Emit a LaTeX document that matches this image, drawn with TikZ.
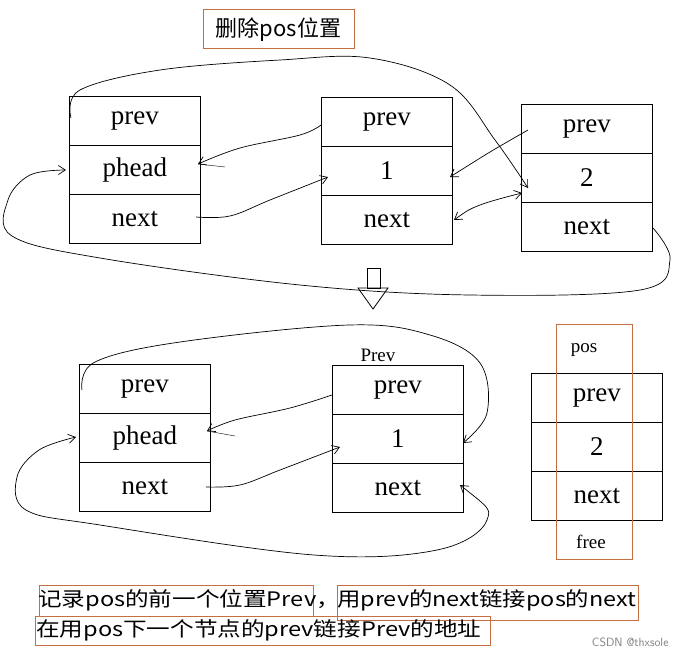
\documentclass[tikz,border=0pt]{standalone}
\usepackage{fontspec}
\setmainfont{Liberation Serif}
\newfontfamily\cjk{Noto Sans CJK SC}
\usetikzlibrary{arrows.meta}
\definecolor{ob}{RGB}{196,110,70}
\begin{document}
\begin{tikzpicture}[x=1pt,y=-1pt,
  cell/.style={draw,line width=0.8pt,minimum width=131pt,minimum height=49pt,inner sep=0,font=\fontsize{27}{27}\selectfont,anchor=north west},
  obox/.style={draw=ob,line width=0.8pt},
  lbl/.style={font=\cjk\fontsize{20}{20}\selectfont,inner sep=0},
  hand/.style={line width=0.7pt,-{Straight Barb[length=7pt,width=9pt]}},
  hand2/.style={line width=0.7pt,{Straight Barb[length=7pt,width=9pt]}-{Straight Barb[length=7pt,width=9pt]}}]
\useasboundingbox (0,0) rectangle (677,656);
% title
\draw[obox] (203,9) rectangle (354,48);
\node[lbl,font=\cjk\fontsize{22}{22}\selectfont] (title) at (278.5,30) {删除pos位置};
% top nodes
\node[cell] (a1) at (69,96) {prev};
\node[cell] (a2) at (69,145) {phead};
\node[cell] (a3) at (69,194) {next};
\node[cell] (b1) at (321,97) {prev};
\node[cell] (b2) at (321,146) {1};
\node[cell] (b3) at (321,195) {next};
\node[cell] (c1) at (521,104) {prev};
\node[cell] (c2) at (521,153) {2};
\node[cell] (c3) at (521,202) {next};
% top connectors
\draw[hand] plot[smooth,tension=0.6] coordinates {(71,118) (80,90) (160,70) (280,60) (370,58) (450,85) (495,140) (528,188)};
\draw[hand] plot[smooth,tension=0.6] coordinates {(321,125) (300,135) (240,148) (198,164)};
\draw (198,164) -- (225,167);
\draw[hand] plot[smooth,tension=0.6] coordinates {(196,217) (230,216) (270,200) (328,177)};
\draw[hand] plot[smooth,tension=0.6] coordinates {(528,130) (490,152) (450,177)};
\draw[hand2] plot[smooth,tension=0.6] coordinates {(454,220) (480,205) (522,193)};
\draw[hand] plot[smooth,tension=0.6] coordinates {(653,228) (670,260) (640,290) (470,295) (300,285) (100,258) (12,236) (8,200) (30,175) (66,170)};
% down arrow
\node[draw,line width=0.8pt,minimum width=13pt,minimum height=20pt,inner sep=0,anchor=north west] (dshaft) at (367,268) {};
\draw[line width=0.8pt] (358,288) -- (373,309) -- (388,288) -- cycle;
% bottom nodes
\node[cell] (d1) at (79,364) {prev};
\node[cell] (d2) at (79,413) {phead};
\node[cell] (d3) at (79,462) {next};
\node[cell] (e1) at (332,365) {prev};
\node[cell] (e2) at (332,414) {1};
\node[cell] (e3) at (332,463) {next};
\node[cell] (f1) at (531,373) {prev};
\node[cell] (f2) at (531,422) {2};
\node[cell] (f3) at (531,471) {next};
\node[obox,minimum width=76pt,minimum height=235pt,inner sep=0,anchor=north west] (posbox) at (556,324) {};
\node[font=\fontsize{19}{19}\selectfont,inner sep=0] (pos) at (584,350) {pos};
\node[font=\fontsize{19}{19}\selectfont,inner sep=0] (free) at (591,542) {free};
\node[font=\fontsize{19}{19}\selectfont,inner sep=0] (prevl) at (378,355) {Prev};
% bottom connectors
\draw[hand] plot[smooth,tension=0.6] coordinates {(82,390) (95,362) (180,342) (349,325) (430,335) (480,363) (487,413) (463,443)};
\draw[hand] plot[smooth,tension=0.6] coordinates {(332,395) (290,408) (235,420) (207,431)};
\draw (207,431) -- (235,436);
\draw[hand] plot[smooth,tension=0.6] coordinates {(206,487) (240,485) (280,470) (340,447)};
\draw[hand2] plot[smooth,tension=0.6] coordinates {(460,485) (487,520) (437,550) (314,555) (100,525) (26,510) (17,477) (39,450) (76,437)};
% bottom text
\draw[obox] (39,585) rectangle (313,616);
\draw[obox] (337,585) rectangle (638,620);
\draw[obox] (35,616) rectangle (490,645);
\node[lbl,anchor=west] (t1) at (38,600) {\scalebox{1.18}[1]{记录pos的前一个位置Prev，}};
\node[lbl,anchor=west] (t2) at (337,600) {\scalebox{1.17}[1]{用prev的next链接pos的next}};
\node[lbl,anchor=west] (t3) at (36,630) {\scalebox{1.18}[1]{在用pos下一个节点的prev链接Prev的地址}};
\node[font=\fontsize{12}{12}\selectfont\sffamily,text=gray,anchor=east] (wm) at (672,642) {CSDN @thxsole};
\end{tikzpicture}
\end{document}
